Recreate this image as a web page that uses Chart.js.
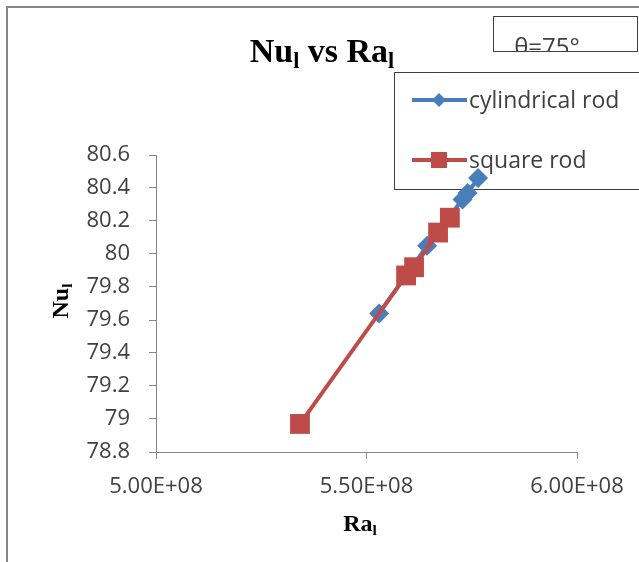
<!DOCTYPE html>
<html>
<head>
<meta charset="utf-8">
<title>Nu vs Ra</title>
<script src="https://cdn.jsdelivr.net/npm/chart.js@4.4.0/dist/chart.umd.min.js"></script>
<style>
    html, body { margin: 0; padding: 0; background: #fff; }
    #wrap { width: 639px; height: 562px; }
</style>
</head>
<body>
<div id="wrap"><canvas id="nuChart"></canvas></div>
<script>
// Data
const cylRa = [5.530e8, 5.644e8, 5.728e8, 5.740e8, 5.765e8];
const cylNu = [79.64, 80.05, 80.33, 80.37, 80.46];
const sqRa = [5.342e8, 5.594e8, 5.613e8, 5.670e8, 5.698e8];
const sqNu = [78.97, 79.87, 79.92, 80.13, 80.22];

// Tick labels
const xTicks = [5.0e8, 5.5e8, 6.0e8];
const yTicks = [78.8, 79, 79.2, 79.4, 79.6, 79.8, 80, 80.2, 80.4, 80.6];

const seriesNames = ['cylindrical rod', 'square rod'];
const angleNote = 'θ=75°';

// Colors
const blue = '#4a7ebb';
const red = '#be4b48';
const axisGray = '#868686';
const textGray = '#404040';

const tickFont = { family: 'Open Sans', size: 22 };

// Format like 5.00E+08
function sci(v) {
    const e = Math.floor(Math.log10(v));
    const m = (v / Math.pow(10, e)).toFixed(2);
    return m + 'E+' + String(e).padStart(2, '0');
}

function toPoints(xs, ys) {
    return xs.map((x, i) => ({ x: x, y: ys[i] }));
}

// Text with a subscript "l", drawn piece by piece
function drawSubText(ctx, parts, x, y, size) {
    let total = 0;
    parts.forEach(p => {
        ctx.font = 'bold ' + (p.sub ? size * 0.65 : size) + 'px "Liberation Serif"';
        total += ctx.measureText(p.t).width;
    });
    let cx = x - total / 2;
    parts.forEach(p => {
        ctx.font = 'bold ' + (p.sub ? size * 0.65 : size) + 'px "Liberation Serif"';
        ctx.fillText(p.t, cx, p.sub ? y + size * 0.18 : y);
        cx += ctx.measureText(p.t).width;
    });
}

const decorPlugin = {
    id: 'decor',
    beforeDraw(chart) {
        const ctx = chart.ctx;
        ctx.save();
        ctx.fillStyle = '#fff';
        ctx.fillRect(0, 0, chart.width, chart.height);
        ctx.strokeStyle = axisGray;
        ctx.lineWidth = 2;
        ctx.strokeRect(7, 7, 700, 700);
        ctx.restore();
    },
    beforeDatasetsDraw(chart) {
        // legend box sits under the markers
        const ctx = chart.ctx;
        ctx.save();
        ctx.strokeStyle = textGray;
        ctx.lineWidth = 1;
        ctx.strokeRect(394.5, 72.5, 300, 117);
        chart.data.datasets.forEach((ds, i) => {
            const y = 100 + i * 60;
            ctx.strokeStyle = ds.borderColor;
            ctx.lineWidth = 4;
            ctx.beginPath();
            ctx.moveTo(412, y);
            ctx.lineTo(467, y);
            ctx.stroke();
            ctx.fillStyle = ds.backgroundColor;
            ctx.beginPath();
            if (ds.pointStyle === 'rect') {
                ctx.rect(431, y - 8, 16, 16);
            } else {
                ctx.moveTo(439, y - 7);
                ctx.lineTo(446, y);
                ctx.lineTo(439, y + 7);
                ctx.lineTo(432, y);
                ctx.closePath();
            }
            ctx.fill();
            ctx.fillStyle = textGray;
            ctx.font = '23px "Open Sans"';
            ctx.textAlign = 'left';
            ctx.textBaseline = 'alphabetic';
            ctx.fillText(ds.label, 469, y + 8);
        });
        ctx.restore();
    },
    afterDraw(chart) {
        const ctx = chart.ctx;
        ctx.save();
        ctx.fillStyle = '#000';
        ctx.textAlign = 'left';
        ctx.textBaseline = 'alphabetic';

        // Title
        drawSubText(ctx, [{ t: 'Nu' }, { t: 'l', sub: true }, { t: ' vs Ra' }, { t: 'l', sub: true }], 322, 62, 34);

        // X axis title
        drawSubText(ctx, [{ t: 'Ra' }, { t: 'l', sub: true }], 360, 531, 24);

        // Y axis title
        ctx.save();
        ctx.translate(68, 301);
        ctx.rotate(-Math.PI / 2);
        drawSubText(ctx, [{ t: 'Nu' }, { t: 'l', sub: true }], 0, 0, 24);
        ctx.restore();

        // Angle note box
        ctx.save();
        ctx.beginPath();
        ctx.rect(493, 16, 144, 35);
        ctx.clip();
        ctx.fillStyle = textGray;
        ctx.font = '24px "Open Sans"';
        ctx.textAlign = 'center';
        ctx.fillText(angleNote, 547, 55);
        ctx.restore();
        ctx.strokeStyle = textGray;
        ctx.lineWidth = 1;
        ctx.strokeRect(493.5, 16.5, 144, 35);

        ctx.restore();
    }
};

function createChart() {
    const ctx = document.getElementById('nuChart');
    new Chart(ctx, {
        type: 'scatter',
        data: {
            datasets: [
                {
                    label: seriesNames[0],
                    data: toPoints(cylRa, cylNu),
                    showLine: true,
                    borderColor: blue,
                    backgroundColor: blue,
                    borderWidth: 4,
                    pointStyle: 'rectRot',
                    pointRadius: 10,
                    pointBorderWidth: 0,
                    order: 1
                },
                {
                    label: seriesNames[1],
                    data: toPoints(sqRa, sqNu),
                    showLine: true,
                    borderColor: red,
                    backgroundColor: red,
                    borderWidth: 4,
                    pointStyle: 'rect',
                    pointRadius: 14,
                    pointBorderWidth: 0,
                    order: 0
                }
            ]
        },
        options: {
            responsive: true,
            maintainAspectRatio: false,
            animation: false,
            layout: { padding: { top: 155, right: 62, left: 0, bottom: 0 } },
            plugins: {
                legend: { display: false },
                tooltip: { enabled: false }
            },
            scales: {
                x: {
                    type: 'linear',
                    min: xTicks[0],
                    max: xTicks[xTicks.length - 1],
                    afterBuildTicks: s => { s.ticks = xTicks.map(v => ({ value: v })); },
                    afterFit: s => { s.height = 110; },
                    border: { color: axisGray, width: 1 },
                    grid: { drawOnChartArea: false, tickLength: 7, color: axisGray },
                    ticks: {
                        font: tickFont,
                        color: textGray,
                        padding: 15,
                        maxRotation: 0,
                        callback: v => sci(v)
                    }
                },
                y: {
                    type: 'linear',
                    min: yTicks[0],
                    max: yTicks[yTicks.length - 1],
                    afterBuildTicks: s => { s.ticks = yTicks.map(v => ({ value: v })); },
                    afterFit: s => { s.width = 156; },
                    border: { color: axisGray, width: 1 },
                    grid: { drawOnChartArea: false, tickLength: 7, color: axisGray },
                    ticks: {
                        font: tickFont,
                        color: textGray,
                        padding: 19,
                        callback: v => String(Math.round(v * 10) / 10)
                    }
                }
            }
        },
        plugins: [decorPlugin]
    });
}

document.addEventListener('DOMContentLoaded', createChart);
</script>
</body>
</html>
